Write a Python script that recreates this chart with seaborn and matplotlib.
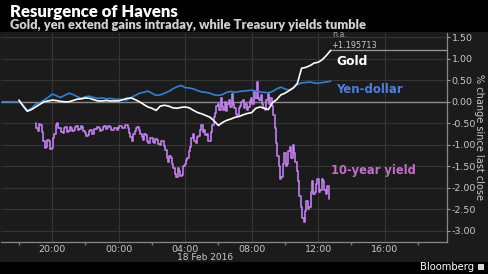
import numpy as np
import pandas as pd
import matplotlib
matplotlib.use("Agg")
import matplotlib.pyplot as plt
import matplotlib.dates as mdates
from matplotlib.patches import Rectangle
from matplotlib.font_manager import FontProperties
import seaborn as sns

# ---------------- data ----------------
# Yen-dollar, % change since last close, 15-minute samples from 17:00 on 17 Feb 2016
yen_start = "2016-02-17 17:00"
yen_values = [0.0, 0.0, 0.0, 0.0, 0.0, -0.08, -0.2, -0.15, -0.06, -0.02,
              0.04, 0.1, 0.18, 0.14, 0.1, 0.15, 0.2, 0.17, 0.12, 0.08,
              0.12, 0.13, 0.1, 0.08, 0.09, 0.07, 0.08, 0.06, 0.06, 0.05,
              0.04, 0.1, 0.15, 0.2, 0.22, 0.25, 0.2, 0.15, 0.16, 0.2,
              0.24, 0.3, 0.35, 0.38, 0.33, 0.32, 0.3, 0.26, 0.23, 0.22,
              0.2, 0.16, 0.15, 0.17, 0.22, 0.24, 0.22, 0.24, 0.25, 0.26,
              0.27, 0.25, 0.23, 0.22, 0.21, 0.24, 0.3, 0.34, 0.3, 0.27,
              0.33, 0.4, 0.44, 0.45, 0.46, 0.44, 0.43, 0.45, 0.46, 0.48]

# Gold, 15-minute samples from 18:00 on 17 Feb 2016
gold_start = "2016-02-17 18:00"
gold_values = [0.04, -0.1, -0.22, -0.18, -0.12, -0.06, 0.0, 0.02, 0.04, 0.03,
               0.01, 0.0, 0.0, 0.03, 0.06, 0.07, 0.09, 0.08, 0.05, 0.02,
               0.02, 0.03, 0.02, 0.02, 0.02, 0.05, 0.08, 0.09, 0.05, 0.0,
               -0.06, -0.12, -0.15, -0.2, -0.1, -0.08, -0.1, -0.14, -0.15, -0.13,
               -0.12, -0.14, -0.2, -0.25, -0.28, -0.32, -0.36, -0.45, -0.55, -0.48,
               -0.43, -0.4, -0.36, -0.34, -0.3, -0.27, -0.25, -0.15, -0.12, -0.15,
               -0.18, -0.02, 0.05, 0.16, 0.2, 0.26, 0.32, 0.43, 0.78, 0.8,
               0.84, 0.9, 0.92, 0.98, 1.08, 1.195713]

# US 10-year Treasury yield, 5-minute samples from 19:00 on 17 Feb 2016
yield_start = "2016-02-17 19:00"
yield_values = [-0.5, -0.62, -0.68, -0.52, -0.55, -0.7, -0.92, -1.08, -1.05, -0.88,
                -0.9, -1.1, -1.08, -0.85, -0.75, -0.55, -0.5, -0.6, -0.62, -0.7,
                -0.72, -0.62, -0.58, -0.7, -0.68, -0.58, -0.6, -0.68, -0.66, -0.58,
                -0.56, -0.66, -0.64, -0.56, -0.58, -0.68, -0.72, -0.8, -0.78, -0.68,
                -0.66, -0.76, -0.74, -0.64, -0.64, -0.58, -0.6, -0.68, -0.66, -0.58,
                -0.57, -0.64, -0.62, -0.56, -0.58, -0.66, -0.66, -0.6, -0.6, -0.66,
                -0.62, -0.56, -0.56, -0.62, -0.6, -0.54, -0.55, -0.62, -0.72, -0.82,
                -0.9, -0.76, -0.68, -0.6, -0.58, -0.66, -0.75, -0.82, -0.88, -0.76,
                -0.78, -0.9, -0.96, -0.84, -0.85, -0.94, -0.95, -0.86, -0.88, -0.98,
                -1.0, -0.9, -0.92, -1.02, -1.12, -1.3, -1.4, -1.25, -1.3, -1.45,
                -1.55, -1.68, -1.75, -1.55, -1.6, -1.72, -1.7, -1.5, -1.45, -1.35,
                -1.3, -1.15, -1.05, -0.85, -0.75, -0.9, -0.96, -0.82, -0.8, -0.65,
                -0.55, -0.7, -0.65, -0.78, -0.75, -0.9, -0.92, -0.7, -0.55, -0.35,
                -0.25, -0.1, -0.05, -0.2, 0.08, -0.1, -0.18, 0.0, -0.22, -0.05,
                0.05, -0.12, 0.18, -0.05, -0.15, -0.28, -0.33, -0.15, -0.1, 0.0,
                0.04, -0.15, -0.05, -0.2, -0.12, 0.02, 0.1, -0.05, 0.26, 0.1,
                0.46, 0.1, 0.05, 0.15, -0.05, -0.15, -0.2, 0.05, 0.18, -0.05,
                0.1, -0.1, -0.3, -0.6, -0.95, -1.25, -1.5, -1.8, -1.75, -1.45,
                -1.2, -1.5, -1.45, -1.15, -1.05, -1.3, -1.0, -1.2, -1.4, -1.6,
                -1.85, -2.2, -2.45, -2.7, -2.8, -2.55, -2.3, -2.5, -2.45, -2.1,
                -1.85, -2.15, -2.1, -1.9, -1.8, -2.1, -2.05, -1.8, -1.85, -2.05,
                -2.15, -1.95, -2.25]

gold_last = 1.195713
y_ticks = [1.5, 1.0, 0.5, 0.0, -0.5, -1.0, -1.5, -2.0, -2.5, -3.0]
x_ticks = ["2016-02-17 20:00", "2016-02-18 00:00", "2016-02-18 04:00",
           "2016-02-18 08:00", "2016-02-18 12:00", "2016-02-18 16:00"]
series_labels = ["Gold", "Yen-dollar", "10-year yield"]

# ---------------- build frames ----------------
yen_df = pd.DataFrame({"time": pd.date_range(yen_start, periods=len(yen_values), freq="15min"),
                       "value": yen_values})
gold_df = pd.DataFrame({"time": pd.date_range(gold_start, periods=len(gold_values), freq="15min"),
                        "value": gold_values})
yield_df = pd.DataFrame({"time": pd.date_range(yield_start, periods=len(yield_values), freq="5min"),
                         "value": yield_values})

# ---------------- style ----------------
BG = "#1b1b1b"
GRID = "#353535"
TXT = "#c8c8c8"
BLUE = "#2f80d8"
PURPLE = "#c27ff0"
PURPLE_TXT = "#c46ec8"
BLUE_TXT = "#4a7fe0"

sns.set_theme(style="dark")
plt.rcParams["font.family"] = ["DejaVu Sans"]

W, H = 488, 274
fig = plt.figure(figsize=(W / 100, H / 100), dpi=100, facecolor=BG)
ax = fig.add_axes([0.002, 1 - 242 / H, 447 / W - 0.002, (242 - 33) / H])
ax.set_facecolor(BG)

# title bands
fig.patches.append(Rectangle((0, 1 - 32 / H), 1, 32 / H, transform=fig.transFigure,
                             facecolor="black", edgecolor="none", zorder=0))
fig.patches.append(Rectangle((0, 0), 1, 12 / H, transform=fig.transFigure,
                             facecolor="black", edgecolor="none", zorder=0))

sns.lineplot(data=yield_df, x="time", y="value", ax=ax, color=PURPLE, linewidth=1.2,
             drawstyle="steps-mid", zorder=3)
sns.lineplot(data=gold_df, x="time", y="value", ax=ax, color="white", linewidth=1.2, zorder=5)
sns.lineplot(data=yen_df, x="time", y="value", ax=ax, color=BLUE, linewidth=1.2, zorder=4)

x0 = pd.Timestamp("2016-02-17 16:55")
x1 = pd.Timestamp("2016-02-18 19:45")
ax.set_xlim(x0, x1)
ax.set_ylim(-3.26, 1.60)

# grid / ticks
ax.set_yticks(y_ticks)
ax.set_yticklabels([f"{v:.2f}" for v in y_ticks])
ax.set_xticks(pd.to_datetime(x_ticks))
ax.xaxis.set_major_formatter(mdates.DateFormatter("%H:%M"))
ax.xaxis.set_minor_locator(mdates.HourLocator(byhour=range(0, 24, 2)))
ax.grid(True, which="major", color=GRID, linewidth=0.8)
ax.axhline(0, color="#8c8c8c", linewidth=1.0, zorder=2)

ax.yaxis.tick_right()
ax.tick_params(axis="y", which="both", right=True, left=False, length=2.5, width=0.8,
               color="#9a9a9a", labelcolor=TXT, labelsize=6.8, pad=1)
ax.tick_params(axis="x", which="major", bottom=True, length=0, labelcolor=TXT,
               labelsize=6.8, pad=2)
ax.tick_params(axis="x", which="minor", bottom=True, length=2, color="#777777")
ax.set_xlabel("")
ax.set_ylabel("")
fig.text(479 / W, 1 - 137 / H, "% change since last close", rotation=270, color=TXT,
         fontsize=7, ha="center", va="center")

ax.spines["top"].set_visible(False)
ax.spines["left"].set_visible(False)
ax.spines["right"].set_color("#8a8a8a")
ax.spines["right"].set_linewidth(0.9)
ax.spines["bottom"].set_color("#8a8a8a")
ax.spines["bottom"].set_linewidth(0.9)

# last-value marker for gold
t_end = gold_df["time"].iloc[-1]
ax.plot([t_end, x1], [gold_last, gold_last], color="#9a9a9a", linewidth=0.9, zorder=2)
ax.text(t_end, 1.32, f"+{gold_last}", color=TXT, fontsize=5.9, ha="left", va="center")
ax.text(t_end + pd.Timedelta(minutes=5), 1.555, "n.a.", color="#a8a8a8",
        fontsize=5.6, ha="left", va="center")

# series labels
ax.text(pd.Timestamp("2016-02-18 13:05"), 0.93, series_labels[0], color="white",
        fontsize=8.8, fontweight="bold", ha="left", va="center")
ax.text(pd.Timestamp("2016-02-18 13:05"), 0.29, series_labels[1], color=BLUE_TXT,
        fontsize=8.5, fontweight="bold", ha="left", va="center")
ax.text(pd.Timestamp("2016-02-18 12:45"), -1.6, series_labels[2], color=PURPLE_TXT,
        fontsize=8.3, fontweight="bold", ha="left", va="center")

# date under axis
fig.text(205 / W, 1 - 258 / H, "18 Feb 2016", color=TXT, fontsize=6.5,
         ha="center", va="center")

# titles, scaled to the reference widths
def fitted_text(x_px, y_px, s, width_px, size, color):
    fp = FontProperties(family=["Lato", "DejaVu Sans"], weight="heavy", size=size)
    t = fig.text(x_px / W, 1 - y_px / H, s, fontproperties=fp, color=color,
                 ha="left", va="center")
    r = fig.canvas.get_renderer()
    w = t.get_window_extent(renderer=r).width
    t.set_fontsize(size * width_px / w)
    return t

fitted_text(10, 12, "Resurgence of Havens", 168, 12, "white")
fitted_text(10, 25, "Gold, yen extend gains intraday, while Treasury yields tumble", 356, 8.5,
            "#d0d0d0")

# footer
fig.text(474 / W, 1 - 267 / H, "Bloomberg", color="white", fontsize=7.2,
         ha="right", va="center")
fig.patches.append(Rectangle((478 / W, 1 - 270 / H), 6 / W, 6 / H,
                             transform=fig.transFigure, facecolor="#d8d8d8",
                             edgecolor="none", zorder=3))

fig.savefig("out.png", dpi=100, facecolor=fig.get_facecolor())
